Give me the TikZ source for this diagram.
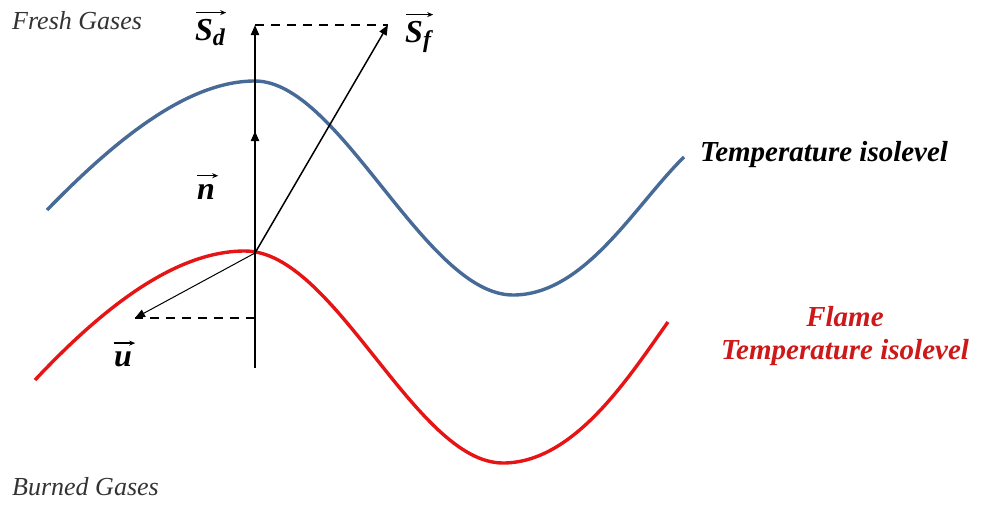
\documentclass[tikz,border=0pt]{standalone}
\usepackage{fontspec}
\setmainfont{Liberation Serif}
\usetikzlibrary{arrows.meta}
\definecolor{isoblue}{RGB}{72,106,150}
\definecolor{flamered}{RGB}{230,20,20}
\definecolor{labelred}{RGB}{205,25,25}
\tikzset{
  gaslabel/.style={font=\itshape\fontsize{26}{30}\selectfont, text=black!80, anchor=west, inner sep=0pt},
  isolabel/.style={font=\bfseries\itshape\fontsize{29}{33}\selectfont, align=center, inner sep=0pt},
  veclabel/.style={font=\bfseries\itshape\fontsize{32}{36}\selectfont, inner sep=0pt, anchor=base west},
  vec/.style={-{Triangle[length=10pt,width=8pt]}},
  overarrow/.style={line width=1.3pt, -{Stealth[length=6pt,width=5pt]}},
  guide/.style={dashed, dash pattern=on 9pt off 7pt, line width=1.8pt}
}
\begin{document}
\begin{tikzpicture}[x=1pt,y=-1pt]
\useasboundingbox (0,0) rectangle (991,504);
% curves
\draw[isoblue, line width=3.4pt] (47,210) .. controls (120,135) and (190,81) .. (255,81)
   .. controls (340,81) and (425,295) .. (513,295) .. controls (585,295) and (635,205) .. (684,157);
\draw[flamered, line width=3.4pt] (35,380) .. controls (110,300) and (180,251) .. (245,251)
   .. controls (335,251) and (415,463) .. (503,463) .. controls (575,463) and (630,375) .. (668,322);
% points
\coordinate (O) at (255,253);
\coordinate (B) at (255,368);
\coordinate (N) at (255,131);
\coordinate (D) at (255,25);
\coordinate (F) at (388,25);
\coordinate (U) at (135,318);
\coordinate (UP) at (255,318);
% arrows
\draw[vec, line width=2pt] (B) -- (D);
\draw[vec, line width=2pt] (O) -- (N);
\draw[vec, line width=1.5pt] (O) -- (F);
\draw[vec, line width=1pt] (O) -- (U);
\draw[guide] (D) -- (F);
\draw[guide] (UP) -- (U);
% labels
\node[gaslabel] (fresh) at (12,21) {Fresh Gases};
\node[gaslabel] (burned) at (12,487) {Burned Gases};
\node[veclabel] (sd) at (195,40) {S\raisebox{-5pt}{\fontsize{24}{26}\selectfont d}};
\node[veclabel] (sf) at (405,42) {S\raisebox{-5pt}{\fontsize{24}{26}\selectfont f}};
\node[veclabel] (n) at (197,199) {n};
\node[veclabel] (u) at (114,366) {u};
\draw[overarrow] ([shift={(1pt,6pt)}]sd.north west) -- ([shift={(1pt,6pt)}]sd.north east);
\draw[overarrow] ([shift={(1pt,6pt)}]sf.north west) -- ([shift={(2pt,6pt)}]sf.north east);
\draw[overarrow] ([shift={(0pt,8pt)}]n.north west) -- ([shift={(3pt,8pt)}]n.north east);
\draw[overarrow] ([shift={(0pt,8pt)}]u.north west) -- ([shift={(3pt,8pt)}]u.north east);
\node[isolabel, anchor=west] (t1) at (700,155) {Temperature isolevel};
\node[isolabel, text=labelred] (t2) at (845,336) {Flame\\Temperature isolevel};
\end{tikzpicture}
\end{document}
